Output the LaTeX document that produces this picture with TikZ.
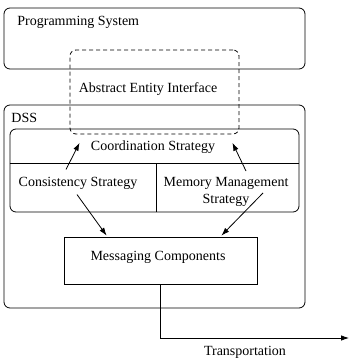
\documentclass[tikz,border=0pt]{standalone}
\usepackage{fontspec}
\setmainfont{Liberation Serif}
\usetikzlibrary{arrows.meta}
\usetikzlibrary{calc}
\tikzset{
    box/.style={draw, rounded corners=6pt, inner sep=0pt},
    plainbox/.style={draw, inner sep=0pt},
    lbl/.style={font=\fontsize{14}{17}\selectfont, inner sep=0pt},
}

\begin{document}
\begin{tikzpicture}[x=1pt, y=-1pt, line width=0.8pt, >={Latex[length=8pt, width=5.5pt]}]
    \useasboundingbox (0,0) rectangle (349,358);

    % outer boxes
    \node[box, minimum width=301pt, minimum height=61pt] (prog) at (154.5,38.5) {};
    \node[box, minimum width=301pt, minimum height=203pt] (dss) at (154.5,206.5) {};
    \node[lbl, anchor=west] (progT) at (17,22) {Programming System};
    \node[lbl, anchor=west] (dssT) at (11,118) {DSS};

    % abstract entity interface
    \node[box, dash pattern=on 4pt off 3pt, minimum width=169pt, minimum height=84pt] (aei) at (154.5,92) {};
    \node[lbl] (aeiT) at (148,89) {Abstract Entity Interface};

    % strategies
    \node[box, minimum width=289pt, minimum height=83pt] (strat) at (154.5,170.5) {};
    \coordinate (split) at (156,163);
    \draw (strat.west |- split) -- (strat.east |- split);
    \draw (split) -- (split |- strat.south);
    \node[lbl] (coord) at (153,147) {Coordination Strategy};
    \node[lbl] (cons) at (78,183) {Consistency Strategy};
    \node[lbl, align=center] (mem) at (226,192) {Memory Management\\Strategy};

    % messaging
    \node[plainbox, minimum width=193pt, minimum height=47pt] (msg) at (160.5,260.5) {};
    \node[lbl] (msgT) at (158,257) {Messaging Components};

    \draw[->] ($(cons.north)+(-12,-7)$) -- ($(coord.south west)+(-11,-11)$);
    \draw[->] ($(mem.north)+(20,-6)$) -- ($(coord.south east)+(17,-11)$);
    \draw[->] ($(cons.south)+(-1,5)$) -- ($(msg.north west)+(43,-1)$);
    \draw[->] ($(mem.south)+(37,-14)$) -- ($(msg.north east)+(-36,-1)$);

    % transport
    \coordinate (tr) at (349,338);
    \draw[->] (msg.south) |- (tr);
    \node[lbl] (trT) at (245,352) {Transportation};

\end{tikzpicture}
\end{document}
